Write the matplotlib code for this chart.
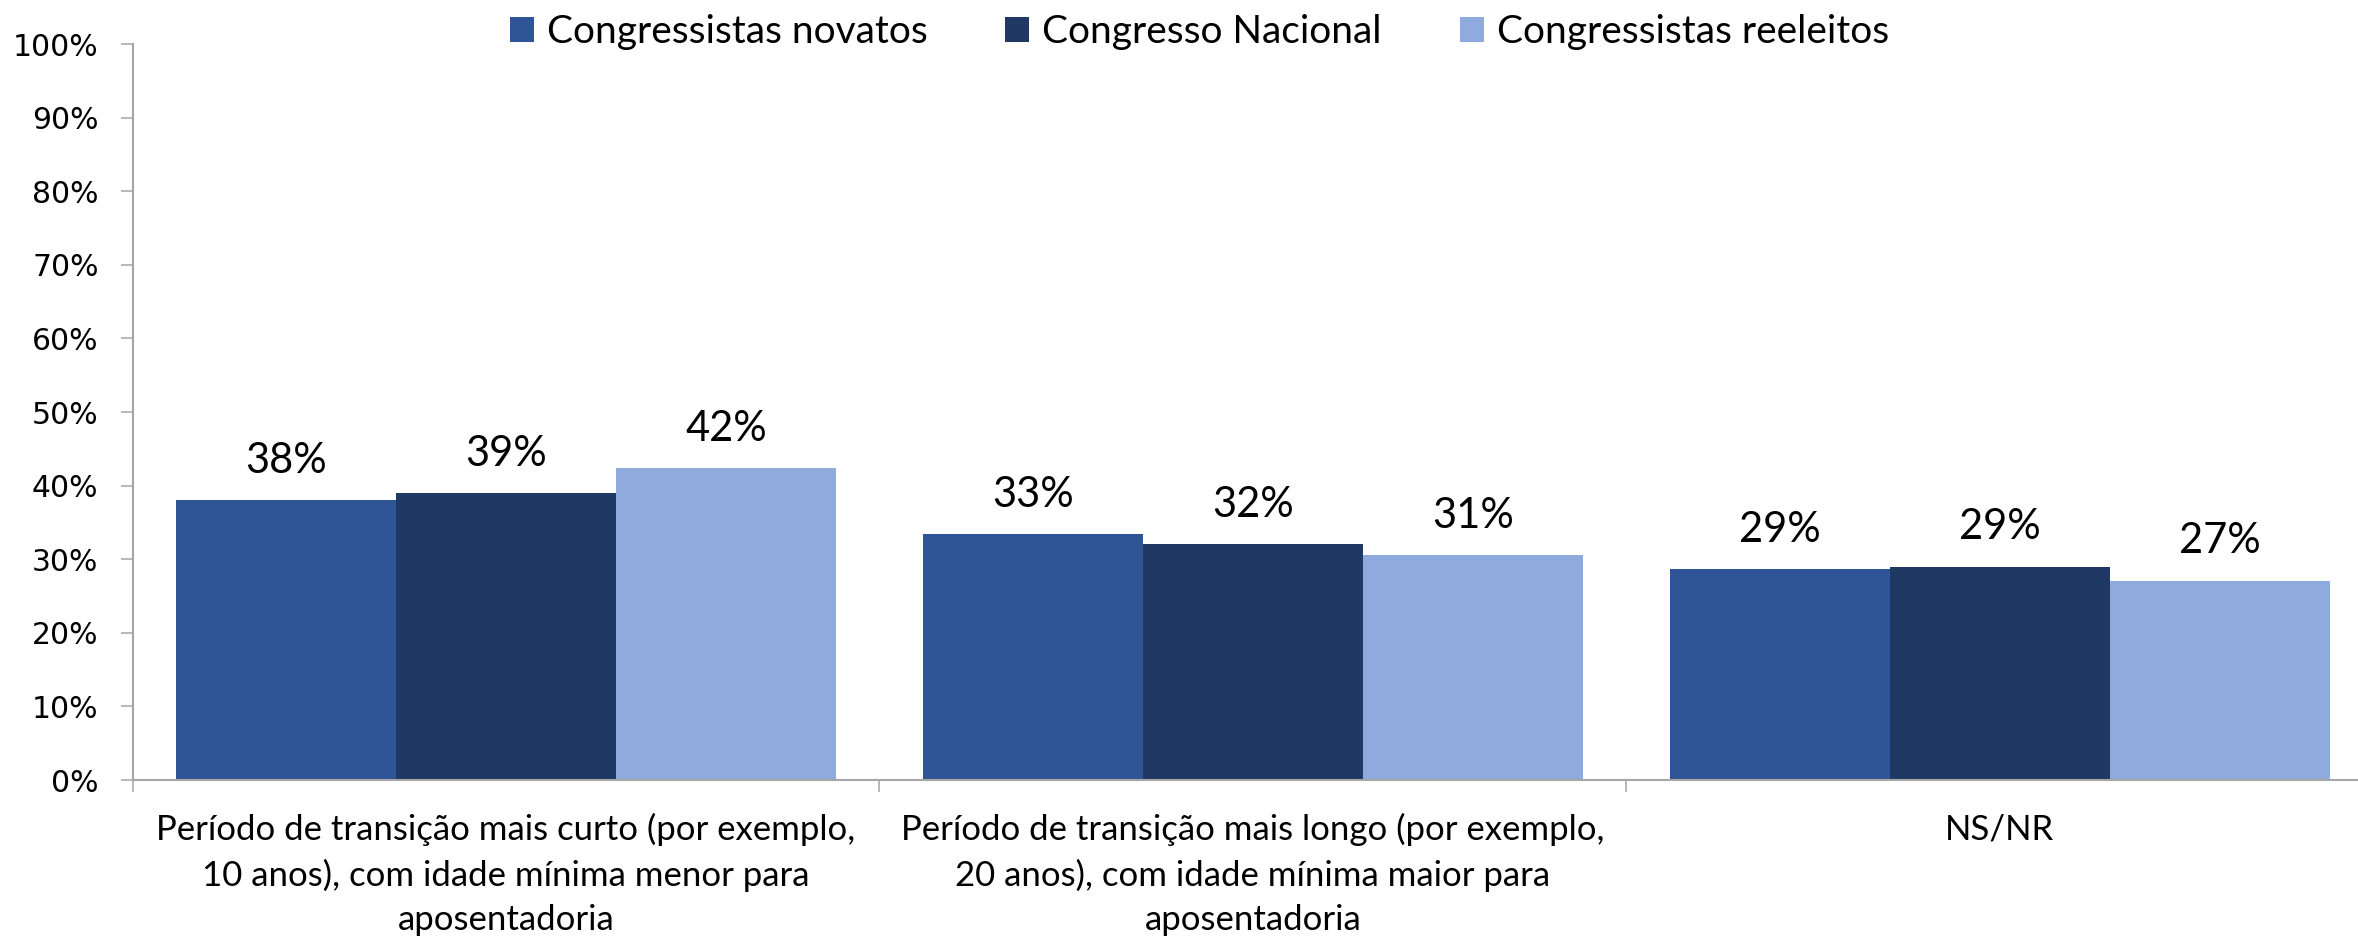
import matplotlib.pyplot as plt
import numpy as np
from matplotlib.ticker import FuncFormatter, FixedLocator

# values in percent
categories = [
    "Período de transição mais curto (por exemplo,\n10 anos), com idade mínima menor para\naposentadoria",
    "Período de transição mais longo (por exemplo,\n20 anos), com idade mínima maior para\naposentadoria",
    "NS/NR",
]
series_names = ["Congressistas novatos", "Congresso Nacional", "Congressistas reeleitos"]
novatos = [38.0, 33.4, 28.7]
nacional = [39.0, 32.1, 29.0]
reeleitos = [42.4, 30.6, 27.1]
yticks = list(range(0, 101, 10))

COLORS = ["#2F5597", "#203864", "#8FAADC"]
AXIS_GRAY = "#A6A6A6"
TEXT_FONT = ["Lato", "DejaVu Sans"]

W, H, DPI = 2358, 936, 100
fig = plt.figure(figsize=(W / DPI, H / DPI), dpi=DPI)
# axes slightly wider than the figure: right end is cut off in the reference
left, right = 132.7, 2373
bottom, top = 780, 44
ax = fig.add_axes([left / W, 1 - bottom / H, (right - left) / W, (bottom - top) / H])

x = np.arange(len(categories))
bw = 0.2945
handles = []
for i, (name, vals) in enumerate(zip(series_names, [novatos, nacional, reeleitos])):
    bars = ax.bar(x + (i - 1) * bw, vals, width=bw, color=COLORS[i], label=name,
                  linewidth=0)
    handles.append(bars)
    for xb, v in zip(x + (i - 1) * bw, vals):
        ax.annotate(f"{round(v):.0f}%", (xb, v), xytext=(0, 19.5),
                    textcoords="offset points", ha="center", va="baseline",
                    fontsize=30, family=TEXT_FONT, color="black")

ax.set_xlim(-0.5, len(categories) - 0.5)
ax.set_ylim(0, 100)
ax.set_yticks(yticks)
ax.yaxis.set_major_formatter(FuncFormatter(lambda v, p: f"{v:.0f}%"))
ax.tick_params(axis="y", length=8.6, width=1.1, color=AXIS_GRAY, pad=16,
               labelsize=21.5, labelcolor="black")
for lab in ax.get_yticklabels():
    lab.set_family("DejaVu Sans")

ax.set_xticks(x)
ax.set_xticklabels(categories, fontsize=25, family=TEXT_FONT, linespacing=1.45)
ax.tick_params(axis="x", which="major", length=0, pad=24)
ax.xaxis.set_minor_locator(FixedLocator(np.arange(len(categories) + 1) - 0.5))
ax.tick_params(axis="x", which="minor", length=8.6, width=1.1, color=AXIS_GRAY)

for s in ("top", "right"):
    ax.spines[s].set_visible(False)
for s in ("left", "bottom"):
    ax.spines[s].set_color(AXIS_GRAY)
    ax.spines[s].set_linewidth(1.5)

fig.legend(handles=handles, loc="center", bbox_to_anchor=(0.5086, 0.966), ncol=3,
           frameon=False, prop={"family": TEXT_FONT, "size": 28},
           handlelength=0.62, handleheight=0.62, handletextpad=0.33,
           columnspacing=2.0, borderaxespad=0)

fig.savefig("out.png", dpi=DPI)
